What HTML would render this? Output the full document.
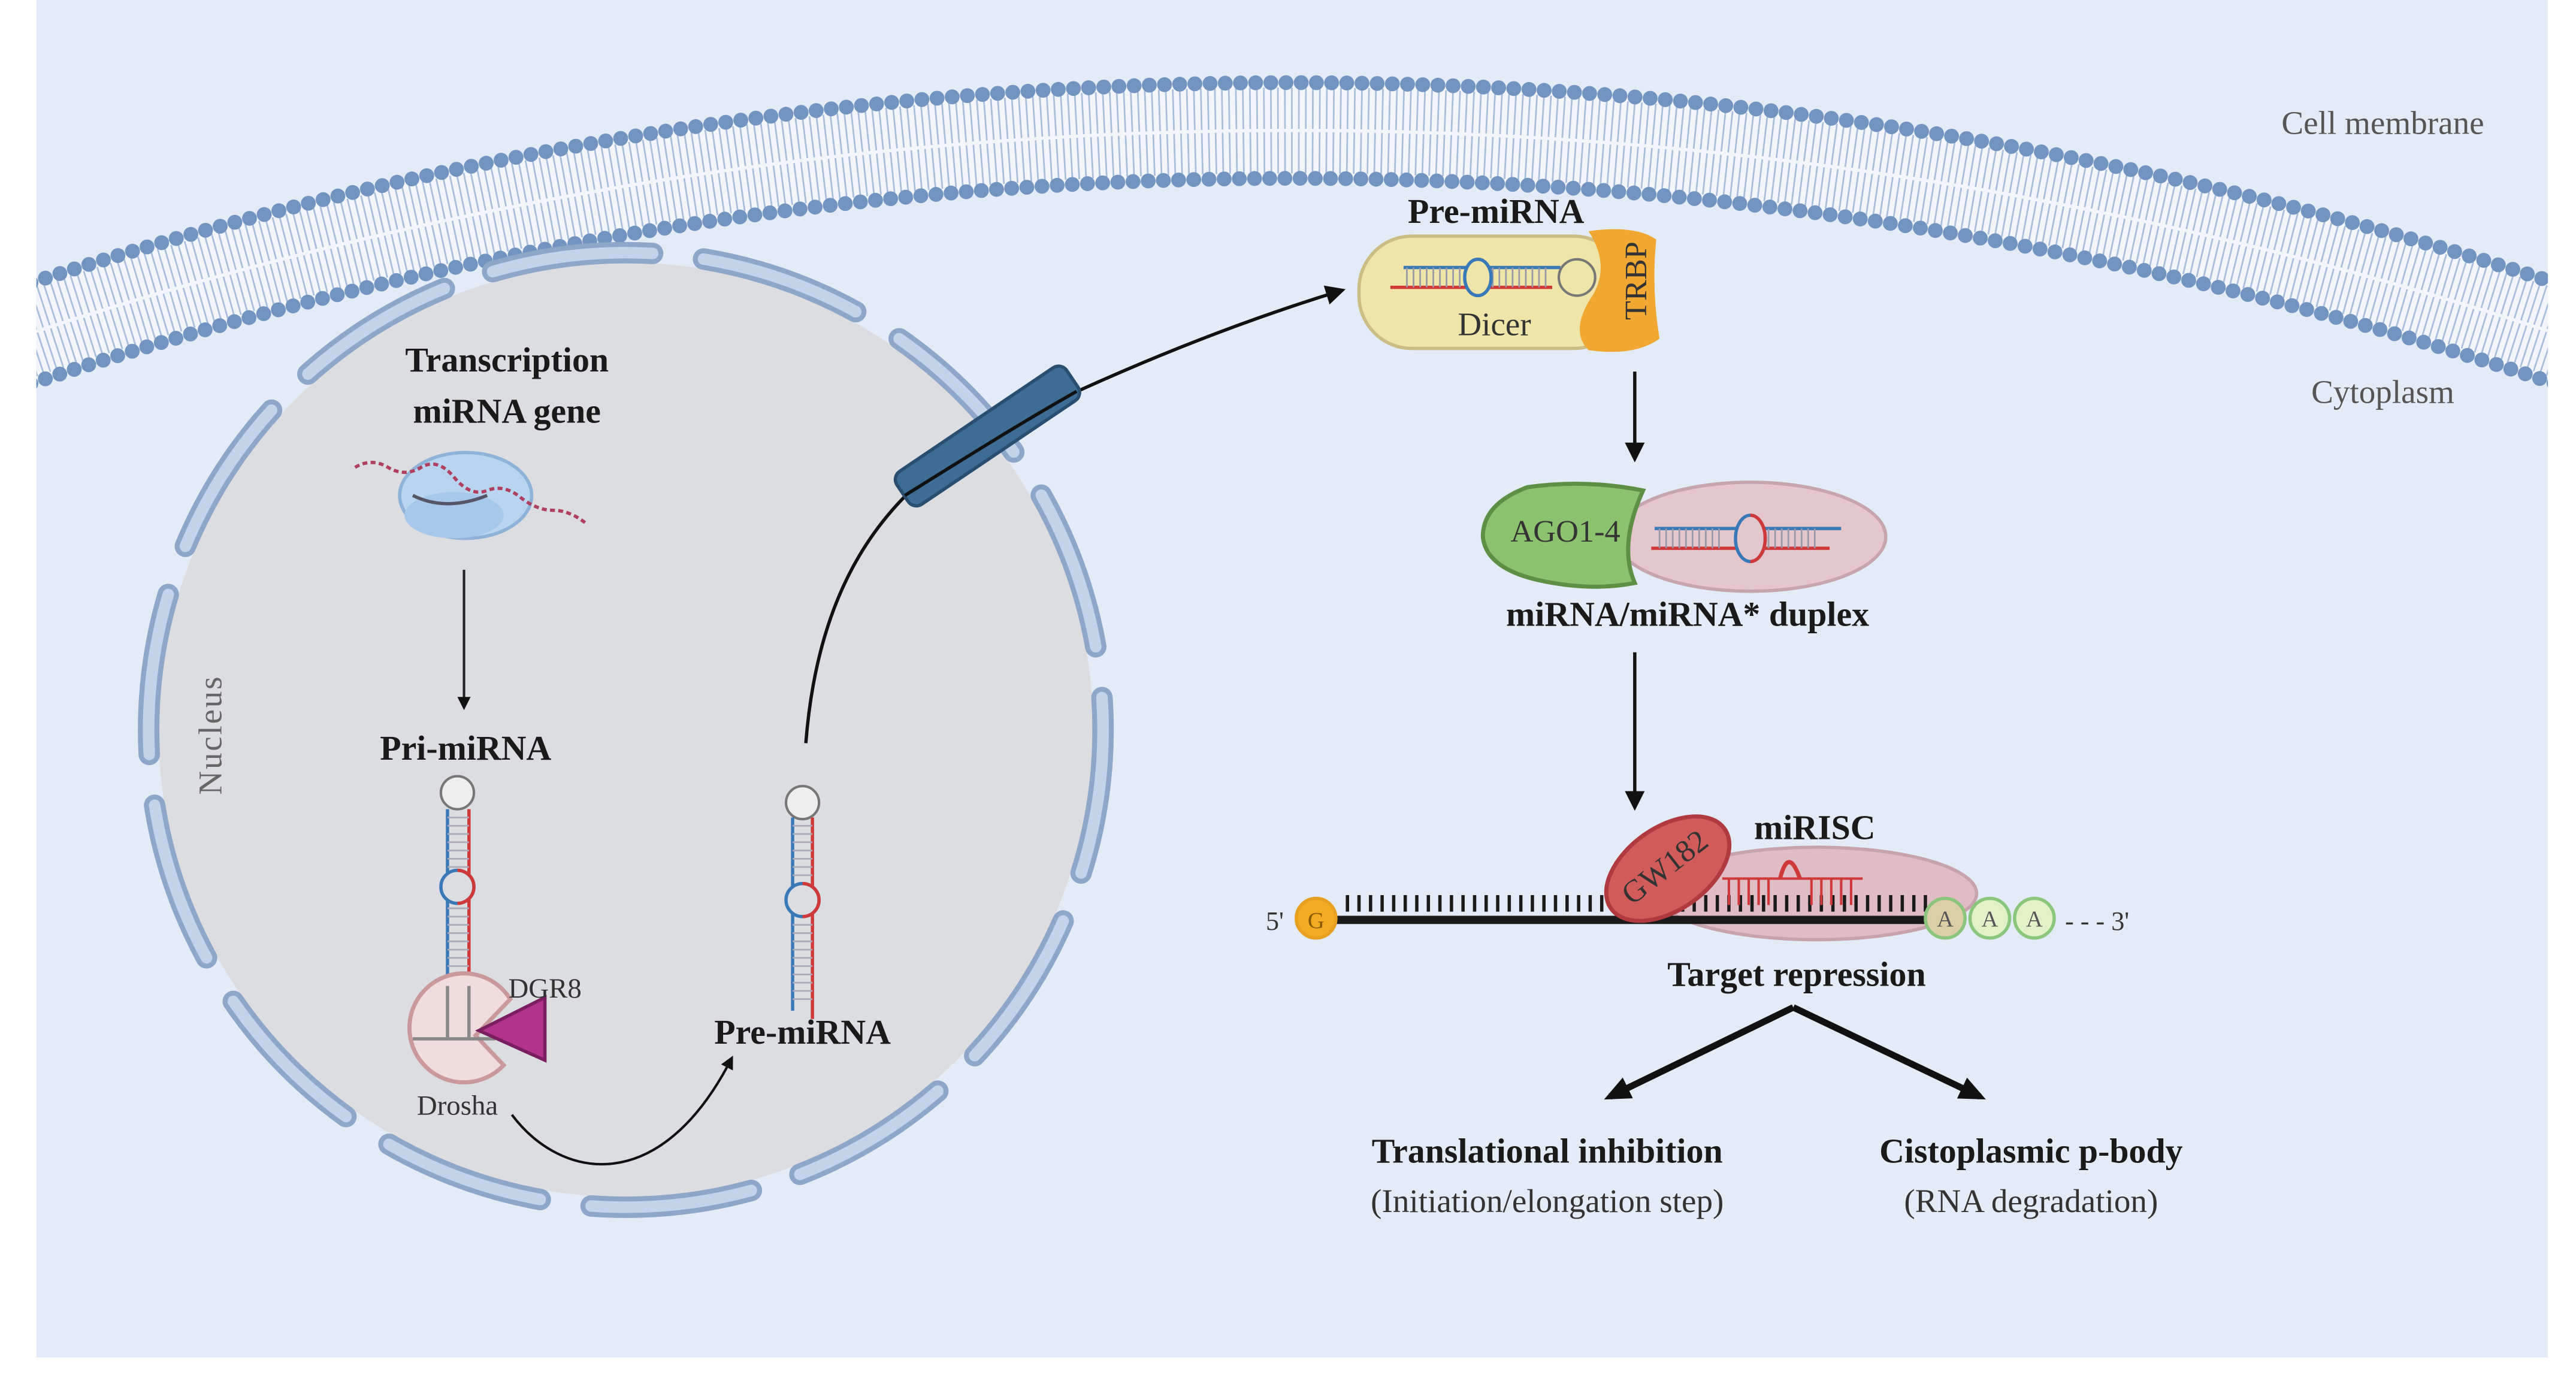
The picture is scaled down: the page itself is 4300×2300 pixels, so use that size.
<!DOCTYPE html>
<html><head><meta charset="utf-8"><style>
html,body{margin:0;padding:0;background:#fff;width:4300px;height:2300px;overflow:hidden;position:relative;}
svg{display:block;position:absolute;left:0;top:0;overflow:hidden;}
text{font-family:"Liberation Serif",serif;}
.b{font-weight:bold;font-size:21px;fill:#1a1a1a;}
.n{font-size:20px;fill:#333;}
</style></head><body>
<svg width="4300" height="2300" viewBox="0 0 1560 834.4" preserveAspectRatio="none" xmlns="http://www.w3.org/2000/svg">
<defs>
<marker id="ah" markerWidth="8" markerHeight="8" refX="6" refY="4" orient="auto" markerUnits="userSpaceOnUse"><path d="M0,0 L8,4 L0,8 z" fill="#111"/></marker>
<marker id="ahb" markerWidth="16" markerHeight="14" refX="12" refY="7" orient="auto" markerUnits="userSpaceOnUse"><path d="M0,0 L16,7 L0,14 z" fill="#111"/></marker>
<marker id="ahm" markerWidth="12" markerHeight="12" refX="9" refY="6" orient="auto" markerUnits="userSpaceOnUse"><path d="M0,0 L12,6 L0,12 z" fill="#111"/></marker>
<clipPath id="cl"><rect x="22" y="0" width="1521" height="822"/></clipPath>
</defs>
<rect x="0" y="0" width="1560" height="834.4" fill="#fff"/>
<rect x="22" y="0" width="1521" height="822" fill="#e2ebf6"/>
<g clip-path="url(#cl)" fill="none">
<path d="M10,204.6 A2441,2441 0 0 1 1556,204.6" stroke="#f2f6fb" stroke-width="58"/>
<path d="M10,204.6 A2441,2441 0 0 1 1556,204.6" stroke="#a9bedb" stroke-width="52" stroke-dasharray="1 3.2"/>
<path d="M10,204.6 A2441,2441 0 0 1 1556,204.6" stroke="#f2f6fb" stroke-width="2"/>
<path d="M10,174.1 A2470,2470 0 0 1 1556,174.1" stroke="#7394c0" stroke-width="9" stroke-linecap="round" stroke-dasharray="0 9.2"/>
<path d="M10,235.2 A2412,2412 0 0 1 1556,235.2" stroke="#7394c0" stroke-width="9" stroke-linecap="round" stroke-dasharray="0 9.2"/>
</g>
<text x="1443" y="81" text-anchor="middle" class="n" style="fill:#555">Cell membrane</text>
<text x="1443" y="244" text-anchor="middle" class="n" style="fill:#555">Cytoplasm</text>

<circle cx="379" cy="442" r="283" fill="#dcdde1"/>
<circle cx="379" cy="442" r="289" fill="none" stroke="#8ea6c8" stroke-width="13" stroke-linecap="round" stroke-dasharray="98 31" stroke-dashoffset="10"/>
<circle cx="379" cy="442" r="289" fill="none" stroke="#c3d3e9" stroke-width="7" stroke-linecap="round" stroke-dasharray="98 31" stroke-dashoffset="10"/>
<text transform="translate(134,445) rotate(-90)" text-anchor="middle" style="font-size:20px;fill:#666;letter-spacing:1px">Nucleus</text>

<text x="307" y="225" text-anchor="middle" class="b">Transcription</text>
<text x="307" y="256" text-anchor="middle" class="b">miRNA gene</text>
<ellipse cx="282" cy="300" rx="40" ry="26" fill="#b9d4ef" stroke="#8fb2d8" stroke-width="2"/>
<ellipse cx="275" cy="312" rx="30" ry="14" fill="#a8c8ea"/>
<path d="M215,283 q10,-6 20,0 t20,0 t20,6 t20,8 t20,4 t20,8 t20,8" fill="none" stroke="#b04060" stroke-width="2" stroke-dasharray="3 2"/>
<path d="M250,300 q20,10 45,0" fill="none" stroke="#556" stroke-width="2"/>
<line x1="281" y1="345" x2="281" y2="428" stroke="#222" stroke-width="1.5" marker-end="url(#ah)"/>

<text x="282" y="460" text-anchor="middle" class="b">Pri-miRNA</text>
<circle cx="277" cy="480" r="10" fill="#eee" stroke="#777" stroke-width="1.5"/>
<line x1="271" y1="490" x2="271" y2="630" stroke="#3a79b8" stroke-width="2"/>
<line x1="284" y1="490" x2="284" y2="630" stroke="#d0393a" stroke-width="2"/>
<g stroke="#aab" stroke-width="1"><path d="M271,495 H284 M271,500 H284 M271,505 H284 M271,510 H284 M271,515 H284 M271,520 H284 M271,525 H284 M271,550 H284 M271,555 H284 M271,560 H284 M271,565 H284 M271,570 H284 M271,575 H284 M271,580 H284 M271,585 H284 M271,590 H284 M271,600 H284 M271,605 H284 M271,610 H284 M271,615 H284 M271,620 H284 M271,625 H284"/></g>
<circle cx="277" cy="537" r="10" fill="#dcdde1" stroke="#3a79b8" stroke-width="2"/>
<path d="M277,527 a10,10 0 0 1 0,20" fill="none" stroke="#d0393a" stroke-width="2"/>
<path d="M309,605 A33,33 0 1 0 305,645 L288,627 z" fill="#f0dcdc" stroke="#c9999c" stroke-width="2.5"/>
<line x1="271" y1="597" x2="271" y2="628" stroke="#888" stroke-width="2"/>
<line x1="284" y1="597" x2="284" y2="628" stroke="#888" stroke-width="2"/>
<line x1="250" y1="629" x2="300" y2="629" stroke="#888" stroke-width="2"/>
<path d="M290,624 L330,604 L330,642 z" fill="#b3338c" stroke="#7a1e60" stroke-width="2"/>
<text x="330" y="604" text-anchor="middle" style="font-size:17px;fill:#333">DGR8</text>
<text x="277" y="675" text-anchor="middle" style="font-size:17px;fill:#333">Drosha</text>
<path d="M310,675 C340,715 400,725 443,641" fill="none" stroke="#111" stroke-width="1.5" marker-end="url(#ah)"/>

<circle cx="486" cy="486" r="10" fill="#eee" stroke="#777" stroke-width="1.5"/>
<line x1="480" y1="495" x2="480" y2="612" stroke="#3a79b8" stroke-width="2"/>
<line x1="492" y1="495" x2="492" y2="617" stroke="#d0393a" stroke-width="2"/>
<g stroke="#aab" stroke-width="1"><path d="M480,500 H492 M480,505 H492 M480,510 H492 M480,515 H492 M480,520 H492 M480,525 H492 M480,530 H492 M480,560 H492 M480,565 H492 M480,570 H492 M480,575 H492 M480,580 H492 M480,585 H492 M480,590 H492 M480,595 H492 M480,600 H492 M480,605 H492"/></g>
<circle cx="486" cy="545" r="10" fill="#dcdde1" stroke="#3a79b8" stroke-width="2"/>
<path d="M486,535 a10,10 0 0 1 0,20" fill="none" stroke="#d0393a" stroke-width="2"/>
<text x="486" y="632" text-anchor="middle" class="b">Pre-miRNA</text>

<path d="M488,450 C495,360 530,300 600,262 C680,222 750,195 812,176" fill="none" stroke="#111" stroke-width="2" marker-end="url(#ahm)"/>
<g transform="translate(598,264) rotate(-34)">
<rect x="-62" y="-12" width="124" height="24" rx="6" fill="#3d6c95" stroke="#2a4e70" stroke-width="2"/>
</g>
<path d="M548,300 C580,280 620,255 652,237" fill="none" stroke="#111" stroke-width="2"/>

<text x="906" y="135" text-anchor="middle" class="b">Pre-miRNA</text>
<rect x="823" y="143" width="162" height="68" rx="32" fill="#efe5a9" stroke="#cbbd84" stroke-width="2"/>
<path d="M962,140 Q990,136 1003,145 Q1000,175 1005,205 Q990,216 962,212 Q950,200 965,178 Q975,160 962,140 z" fill="#f1a833"/>
<text transform="translate(997,170) rotate(-90)" text-anchor="middle" style="font-size:19px;fill:#333">TRBP</text>
<line x1="850" y1="162" x2="945" y2="162" stroke="#3a79b8" stroke-width="2"/>
<line x1="842" y1="174" x2="940" y2="174" stroke="#d0393a" stroke-width="2"/>
<g stroke="#99a" stroke-width="1"><path d="M852,162 V174 M856,162 V174 M860,162 V174 M864,162 V174 M868,162 V174 M872,162 V174 M876,162 V174 M880,162 V174 M884,162 V174 M904,162 V174 M908,162 V174 M912,162 V174 M916,162 V174 M920,162 V174 M924,162 V174 M928,162 V174 M932,162 V174 M936,162 V174"/></g>
<ellipse cx="895" cy="168" rx="8" ry="11" fill="#efe5a9" stroke="#3a79b8" stroke-width="2"/>
<circle cx="955" cy="168" r="11" fill="#efe5a9" stroke="#777" stroke-width="1.5"/>
<text x="905" y="203" text-anchor="middle" style="font-size:20px;fill:#333">Dicer</text>
<line x1="990" y1="225" x2="990" y2="277" stroke="#111" stroke-width="2" marker-end="url(#ahm)"/>

<ellipse cx="1060" cy="325" rx="82" ry="33" fill="#e4c6cd" stroke="#c6a5ae" stroke-width="2"/>
<path d="M995,297 Q960,290 925,295 Q898,305 898,325 Q900,345 935,352 Q965,358 990,353 Q980,330 995,297 z" fill="#8cc26d" stroke="#5e8f45" stroke-width="2.5"/>
<text x="948" y="328" text-anchor="middle" style="font-size:19px;fill:#333">AGO1-4</text>
<line x1="1002" y1="320" x2="1115" y2="320" stroke="#3a79b8" stroke-width="2"/>
<line x1="1000" y1="332" x2="1108" y2="332" stroke="#d0393a" stroke-width="2"/>
<g stroke="#99a" stroke-width="1"><path d="M1005,320 V332 M1009,320 V332 M1013,320 V332 M1017,320 V332 M1021,320 V332 M1025,320 V332 M1029,320 V332 M1033,320 V332 M1037,320 V332 M1041,320 V332 M1071,320 V332 M1075,320 V332 M1079,320 V332 M1083,320 V332 M1087,320 V332 M1091,320 V332 M1095,320 V332 M1099,320 V332"/></g>
<ellipse cx="1060" cy="326" rx="9" ry="14" fill="#e4c6cd" stroke="#3a79b8" stroke-width="2"/>
<path d="M1060,312 a9,14 0 0 1 0,28" fill="none" stroke="#d0393a" stroke-width="2"/>
<text x="1022" y="379" text-anchor="middle" class="b">miRNA/miRNA* duplex</text>
<line x1="990" y1="395" x2="990" y2="488" stroke="#111" stroke-width="2" marker-end="url(#ahm)"/>

<ellipse cx="1100" cy="541" rx="97" ry="28" fill="#e0bcc4" stroke="#c7a3ad" stroke-width="2"/>
<line x1="800" y1="557" x2="1180" y2="557" stroke="#1a1a1a" stroke-width="5"/>
<line x1="815" y1="547" x2="1170" y2="547" stroke="#1a1a1a" stroke-width="10" stroke-dasharray="2 5"/>
<g stroke="#d0393a" stroke-width="1.5" fill="none">
<path d="M1043,532 H1128"/>
<path d="M1047,532 V548 M1053,532 V548 M1059,532 V548 M1065,532 V548 M1071,532 V548 M1097,532 V548 M1103,532 V548 M1109,532 V548 M1115,532 V548 M1121,532 V548"/>
<path d="M1078,532 Q1083,512 1090,532" stroke-width="2.5"/>
</g>
<ellipse cx="1010" cy="526" rx="42" ry="25" transform="rotate(-35 1010 526)" fill="#d15a5a" stroke="#b03a3f" stroke-width="2.5"/>
<text transform="translate(1012,530) rotate(-38)" text-anchor="middle" style="font-size:19px;fill:#333">GW182</text>
<text x="1099" y="508" text-anchor="middle" class="b">miRISC</text>
<circle cx="797" cy="556" r="12" fill="#f3ab22" stroke="#e8a020" stroke-width="2"/>
<text x="797" y="562" text-anchor="middle" style="font-size:14px;fill:#8a5b00">G</text>
<text x="772" y="563" text-anchor="middle" style="font-size:16px;fill:#333">5'</text>
<g fill="#e3f1c9" stroke="#8bc67c" stroke-width="2"><circle cx="1178" cy="556" r="12" fill="#dccfa8"/><circle cx="1205" cy="556" r="12"/><circle cx="1232" cy="556" r="12"/></g>
<g style="font-size:14px;fill:#555" text-anchor="middle"><text x="1178" y="561">A</text><text x="1205" y="561">A</text><text x="1232" y="561">A</text></g>
<text x="1270" y="563" text-anchor="middle" style="font-size:16px;fill:#333">- - - 3'</text>
<text x="1088" y="597" text-anchor="middle" class="b">Target repression</text>
<line x1="1086" y1="610" x2="975" y2="664" stroke="#111" stroke-width="4" marker-end="url(#ahb)"/>
<line x1="1086" y1="610" x2="1199" y2="664" stroke="#111" stroke-width="4" marker-end="url(#ahb)"/>
<text x="937" y="704" text-anchor="middle" class="b">Translational inhibition</text>
<text x="937" y="734" text-anchor="middle" class="n">(Initiation/elongation step)</text>
<text x="1230" y="704" text-anchor="middle" class="b">Cistoplasmic p-body</text>
<text x="1230" y="734" text-anchor="middle" class="n">(RNA degradation)</text>
</svg>
</body></html>
